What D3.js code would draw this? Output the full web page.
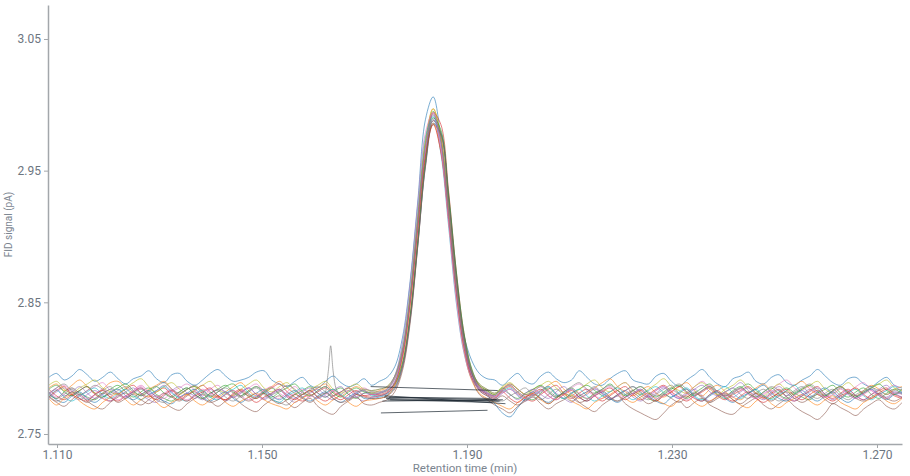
<!DOCTYPE html>
<html>
<head>
<meta charset="utf-8">
<script src="https://cdn.jsdelivr.net/npm/d3@7"></script>
<style>
  body { margin: 0; background: #fff; }
  #chart text { font-family: Roboto, "Noto Sans", sans-serif; }
</style>
</head>
<body>
<div id="chart"></div>
<script>
// retention times shared by every trace (min)
var times = [1.1084,1.1099,1.1114,1.1129,1.1144,1.1159,1.1174,1.1189,1.1204,1.1219,
  1.1234,1.1249,1.1264,1.1279,1.1294,1.1309,1.1324,1.1339,1.1354,1.1369,
  1.1384,1.1399,1.1414,1.1429,1.1444,1.1459,1.1474,1.1489,1.1504,1.1519,
  1.1534,1.1549,1.1564,1.1579,1.1594,1.1609,1.1624,1.1639,1.1654,1.1669,
  1.1684,1.1699,1.1714,1.1729,1.1744,1.1759,1.1774,1.1789,1.1804,1.1819,
  1.1834,1.1849,1.1864,1.1879,1.1894,1.1909,1.1924,1.1939,1.1954,1.1969,
  1.1984,1.1999,1.2014,1.2029,1.2044,1.2059,1.2074,1.2089,1.2104,1.2119,
  1.2134,1.2149,1.2164,1.2179,1.2194,1.2209,1.2224,1.2239,1.2254,1.2269,
  1.2284,1.2299,1.2314,1.2329,1.2344,1.2359,1.2374,1.2389,1.2404,1.2419,
  1.2434,1.2449,1.2464,1.2479,1.2494,1.2509,1.2524,1.2539,1.2554,1.2569,
  1.2584,1.2599,1.2614,1.2629,1.2644,1.2659,1.2674,1.2689,1.2704,1.2719,
  1.2734,1.2749];

// FID signal of each injection (pA)
var run01 = [2.793,2.796,2.791,2.794,2.799,2.795,2.790,2.793,2.797,2.792,
  2.788,2.792,2.794,2.798,2.792,2.789,2.795,2.796,2.790,2.787,
  2.791,2.796,2.799,2.794,2.790,2.791,2.793,2.797,2.798,2.791,
  2.788,2.786,2.790,2.793,2.787,2.785,2.790,2.794,2.789,2.786,
  2.788,2.792,2.787,
  2.790,2.793,2.801,2.823,2.866,2.927,2.989,3.006,2.975,2.920,2.862,2.825,2.806,2.796,2.792,
  2.791,2.787,2.792,2.796,2.790,2.788,2.794,2.797,2.792,2.789,
  2.791,2.798,2.793,2.788,2.787,2.792,2.796,2.798,2.791,2.789,
  2.788,2.794,2.796,2.790,2.786,2.791,2.795,2.799,2.793,2.788,
  2.786,2.792,2.794,2.797,2.790,2.788,2.793,2.795,2.789,2.787,
  2.791,2.794,2.799,2.794,2.789,2.787,2.792,2.793,2.788,2.786,
  2.790,2.793,2.787,2.785];
var run02 = [2.785,2.788,2.783,2.787,2.791,2.786,2.781,2.784,2.789,2.790,
  2.785,2.781,2.780,2.784,2.787,2.790,2.784,2.780,2.784,2.786,
  2.783,2.779,2.778,2.782,2.786,2.789,2.783,2.779,2.783,2.786,
  2.790,2.785,2.781,2.778,2.782,2.785,2.788,2.782,2.779,2.783,
  2.786,2.783,2.781,
  2.783,2.785,2.793,2.813,2.855,2.915,2.973,2.997,2.976,2.922,2.864,2.821,2.797,2.787,2.783,
  2.780,2.785,2.788,2.784,2.780,2.779,2.783,2.787,2.790,2.784,
  2.780,2.777,2.781,2.785,2.789,2.792,2.786,2.782,2.779,2.783,
  2.786,2.781,2.778,2.782,2.786,2.789,2.783,2.779,2.784,2.787,
  2.782,2.778,2.776,2.781,2.785,2.788,2.782,2.779,2.783,2.787,
  2.790,2.784,2.780,2.778,2.783,2.786,2.782,2.779,2.783,2.787,
  2.784,2.780,2.784,2.786];
var run03 = [2.780,2.777,2.782,2.785,2.781,2.778,2.776,2.781,2.784,2.787,
  2.782,2.778,2.782,2.785,2.780,2.777,2.775,2.780,2.784,2.786,
  2.781,2.778,2.782,2.786,2.788,2.782,2.779,2.777,2.782,2.785,
  2.780,2.776,2.780,2.783,2.786,2.781,2.778,2.782,2.785,2.780,
  2.777,2.781,2.782,
  2.782,2.784,2.792,2.812,2.854,2.913,2.971,2.995,2.974,2.920,2.862,2.820,2.796,2.786,2.782,
  2.779,2.784,2.787,2.782,2.778,2.776,2.781,2.785,2.780,2.777,
  2.781,2.784,2.787,2.783,2.779,2.776,2.780,2.783,2.786,2.781,
  2.777,2.775,2.780,2.784,2.787,2.782,2.779,2.783,2.786,2.780,
  2.777,2.781,2.785,2.788,2.783,2.779,2.777,2.782,2.785,2.781,
  2.778,2.776,2.781,2.784,2.787,2.781,2.778,2.782,2.785,2.780,
  2.777,2.781,2.784,2.780];
var run04 = [2.784,2.779,2.776,2.780,2.783,2.786,2.780,2.777,2.775,2.780,
  2.784,2.787,2.781,2.778,2.782,2.785,2.779,2.776,2.780,2.783,
  2.787,2.782,2.778,2.776,2.781,2.784,2.780,2.777,2.781,2.785,
  2.788,2.782,2.778,2.775,2.779,2.782,2.785,2.779,2.776,2.780,
  2.783,2.779,2.778,
  2.779,2.781,2.787,2.803,2.840,2.898,2.961,2.994,2.985,2.935,2.874,2.827,2.799,2.786,2.781,
  2.778,2.783,2.786,2.781,2.777,2.775,2.780,2.784,2.787,2.781,
  2.777,2.781,2.784,2.779,2.775,2.779,2.783,2.786,2.780,2.776,
  2.780,2.784,2.787,2.782,2.778,2.775,2.779,2.782,2.785,2.779,
  2.776,2.780,2.783,2.786,2.781,2.777,2.781,2.784,2.778,2.775,
  2.779,2.783,2.786,2.780,2.777,2.781,2.784,2.779,2.776,2.780,
  2.783,2.785,2.780,2.778];
var run05 = [2.777,2.782,2.785,2.779,2.776,2.780,2.783,2.779,2.775,2.779,
  2.782,2.785,2.780,2.776,2.774,2.779,2.783,2.786,2.781,2.777,
  2.781,2.784,2.779,2.775,2.779,2.782,2.785,2.780,2.776,2.780,
  2.783,2.778,2.774,2.778,2.781,2.784,2.779,2.776,2.780,2.783,
  2.778,2.775,2.778,
  2.779,2.781,2.789,2.809,2.851,2.910,2.968,2.992,2.971,2.917,2.859,2.817,2.793,2.783,2.779,
  2.776,2.781,2.784,2.779,2.775,2.779,2.782,2.786,2.781,2.777,
  2.774,2.779,2.782,2.785,2.780,2.776,2.780,2.783,2.778,2.775,
  2.779,2.783,2.786,2.780,2.777,2.781,2.784,2.779,2.775,2.779,
  2.782,2.785,2.789,2.783,2.779,2.776,2.780,2.783,2.778,2.775,
  2.779,2.782,2.785,2.780,2.776,2.780,2.783,2.779,2.776,2.780,
  2.784,2.787,2.781,2.778];
var run06 = [2.778,2.774,2.771,2.776,2.780,2.775,2.771,2.769,2.774,2.778,
  2.781,2.775,2.772,2.776,2.779,2.774,2.770,2.768,2.773,2.777,
  2.780,2.775,2.771,2.775,2.778,2.773,2.769,2.767,2.772,2.776,
  2.779,2.774,2.770,2.774,2.777,2.771,2.767,2.765,2.771,2.775,
  2.778,2.773,2.772,
  2.774,2.776,2.782,2.798,2.834,2.893,2.955,2.988,2.979,2.930,2.869,2.822,2.793,2.780,2.776,
  2.772,2.769,2.766,2.771,2.775,2.778,2.773,2.769,2.773,2.776,
  2.779,2.774,2.770,2.767,2.772,2.776,2.779,2.773,2.769,2.766,
  2.763,2.761,2.766,2.772,2.775,2.770,2.774,2.777,2.772,2.769,
  2.766,2.765,2.770,2.774,2.777,2.772,2.769,2.773,2.776,2.771,
  2.767,2.764,2.761,2.766,2.773,2.770,2.767,2.764,2.769,2.773,
  2.776,2.771,2.769,2.774];
var run07 = [2.780,2.785,2.787,2.782,2.779,2.783,2.786,2.789,2.783,2.780,
  2.778,2.783,2.787,2.782,2.779,2.777,2.782,2.785,2.788,2.783,
  2.779,2.784,2.787,2.781,2.778,2.782,2.785,2.788,2.782,2.779,
  2.777,2.782,2.786,2.781,2.778,2.783,2.786,2.782,2.779,2.777,
  2.782,2.785,2.782,
  2.782,2.784,2.792,2.812,2.853,2.913,2.970,2.994,2.973,2.919,2.862,2.819,2.796,2.786,2.782,
  2.779,2.784,2.787,2.782,2.779,2.783,2.786,2.781,2.778,2.782,
  2.785,2.788,2.783,2.779,2.777,2.782,2.786,2.789,2.783,2.780,
  2.778,2.783,2.786,2.781,2.778,2.782,2.786,2.790,2.785,2.781,
  2.778,2.782,2.785,2.780,2.777,2.781,2.784,2.788,2.791,2.785,
  2.781,2.778,2.782,2.785,2.781,2.778,2.782,2.786,2.789,2.783,
  2.780,2.784,2.787,2.782];
var run08 = [2.782,2.777,2.780,2.784,2.779,2.776,2.780,2.783,2.786,2.780,
  2.777,2.781,2.784,2.780,2.776,2.774,2.779,2.782,2.785,2.780,
  2.777,2.781,2.783,2.778,2.775,2.779,2.782,2.785,2.780,2.776,
  2.774,2.772,2.777,2.780,2.783,2.778,2.781,2.784,2.779,2.776,
  2.780,2.783,2.780,
  2.779,2.781,2.786,2.802,2.838,2.895,2.956,2.988,2.979,2.931,2.872,2.825,2.798,2.785,2.781,
  2.778,2.775,2.779,2.782,2.785,2.779,2.776,2.780,2.784,2.779,
  2.775,2.779,2.782,2.786,2.781,2.777,2.775,2.780,2.783,2.779,
  2.776,2.780,2.784,2.787,2.781,2.778,2.782,2.777,2.774,2.779,
  2.782,2.785,2.780,2.777,2.781,2.784,2.779,2.775,2.779,2.783,
  2.786,2.780,2.777,2.781,2.784,2.779,2.776,2.780,2.783,2.786,
  2.780,2.777,2.781,2.782];
var run09 = [2.787,2.790,2.784,2.781,2.785,2.788,2.791,2.785,2.782,2.780,
  2.785,2.789,2.792,2.786,2.782,2.786,2.789,2.784,2.780,2.784,
  2.787,2.790,2.784,2.781,2.779,2.784,2.788,2.791,2.785,2.782,
  2.786,2.789,2.783,2.780,2.784,2.787,2.790,2.784,2.781,2.785,
  2.788,2.784,2.783,
  2.784,2.786,2.794,2.814,2.856,2.915,2.973,2.997,2.976,2.922,2.864,2.822,2.798,2.788,2.784,
  2.781,2.786,2.789,2.784,2.780,2.784,2.787,2.790,2.785,2.781,
  2.779,2.784,2.788,2.791,2.785,2.782,2.786,2.789,2.783,2.780,
  2.784,2.788,2.792,2.786,2.783,2.781,2.786,2.789,2.784,2.780,
  2.784,2.787,2.791,2.785,2.781,2.779,2.784,2.788,2.783,2.780,
  2.784,2.787,2.790,2.784,2.781,2.785,2.789,2.784,2.781,2.785,
  2.788,2.791,2.785,2.783];
var run10 = [2.778,2.783,2.778,2.775,2.779,2.782,2.785,2.780,2.777,2.781,
  2.784,2.779,2.776,2.780,2.783,2.786,2.781,2.777,2.775,2.780,
  2.783,2.778,2.776,2.781,2.784,2.787,2.781,2.778,2.782,2.777,
  2.774,2.779,2.782,2.785,2.780,2.777,2.781,2.784,2.780,2.777,
  2.781,2.783,2.779,
  2.781,2.784,2.794,2.818,2.863,2.923,2.976,2.991,2.963,2.908,2.850,2.812,2.792,2.784,2.781,
  2.777,2.782,2.785,2.780,2.776,2.780,2.783,2.786,2.780,2.777,
  2.781,2.784,2.779,2.775,2.779,2.782,2.785,2.780,2.776,2.780,
  2.783,2.786,2.781,2.778,2.782,2.785,2.779,2.776,2.780,2.783,
  2.786,2.781,2.777,2.781,2.784,2.779,2.776,2.780,2.783,2.787,
  2.781,2.778,2.782,2.785,2.780,2.777,2.781,2.784,2.779,2.776,
  2.780,2.783,2.786,2.781];
var run11 = [2.781,2.776,2.774,2.779,2.782,2.777,2.774,2.778,2.781,2.784,
  2.779,2.776,2.780,2.783,2.778,2.775,2.773,2.778,2.781,2.784,
  2.778,2.775,2.779,2.782,2.777,2.774,2.778,2.781,2.784,2.779,
  2.776,2.780,2.783,2.778,2.775,2.779,2.782,2.777,2.774,2.778,
  2.781,2.777,2.777,
  2.778,2.780,2.785,2.801,2.837,2.894,2.954,2.986,2.978,2.929,2.870,2.824,2.797,2.784,2.780,
  2.773,2.766,2.763,2.770,2.777,2.782,2.777,2.774,2.778,2.781,
  2.784,2.778,2.775,2.779,2.782,2.777,2.774,2.778,2.781,2.784,
  2.779,2.775,2.773,2.778,2.781,2.784,2.778,2.775,2.779,2.782,
  2.777,2.774,2.778,2.781,2.784,2.787,2.781,2.777,2.775,2.780,
  2.783,2.778,2.775,2.779,2.782,2.777,2.774,2.778,2.781,2.784,
  2.779,2.776,2.780,2.781];
var run12 = [2.777,2.772,2.777,2.780,2.775,2.771,2.769,2.774,2.778,2.781,
  2.776,2.772,2.776,2.779,2.774,2.770,2.774,2.777,2.780,2.775,
  2.772,2.776,2.779,2.774,2.771,2.775,2.778,2.781,2.776,2.773,
  2.771,2.769,2.774,2.777,2.780,2.775,2.772,2.776,2.779,2.774,
  2.771,2.775,2.776,
  2.777,2.779,2.787,2.807,2.847,2.906,2.962,2.986,2.965,2.913,2.856,2.814,2.791,2.781,2.777,
  2.774,2.771,2.769,2.774,2.778,2.781,2.776,2.773,2.777,2.780,
  2.775,2.772,2.769,2.774,2.777,2.780,2.783,2.777,2.774,2.778,
  2.781,2.776,2.773,2.771,2.776,2.779,2.774,2.771,2.775,2.778,
  2.781,2.776,2.772,2.770,2.775,2.778,2.773,2.770,2.774,2.777,
  2.780,2.775,2.772,2.776,2.779,2.774,2.771,2.769,2.774,2.777,
  2.780,2.775,2.773,2.777];
var run13 = [2.784,2.787,2.782,2.779,2.783,2.786,2.781,2.778,2.782,2.785,
  2.788,2.783,2.779,2.783,2.786,2.781,2.778,2.782,2.785,2.780,
  2.777,2.781,2.784,2.787,2.782,2.779,2.783,2.786,2.781,2.778,
  2.782,2.785,2.788,2.782,2.779,2.783,2.786,2.781,2.778,2.782,
  2.785,2.782,2.781,
  2.781,2.783,2.788,2.804,2.840,2.897,2.958,2.990,2.981,2.933,2.874,2.827,2.800,2.787,2.783,
  2.780,2.785,2.780,2.777,2.781,2.784,2.787,2.782,2.778,2.782,
  2.785,2.780,2.777,2.781,2.784,2.788,2.783,2.779,2.783,2.786,
  2.781,2.778,2.782,2.785,2.780,2.777,2.781,2.785,2.788,2.782,
  2.779,2.783,2.786,2.781,2.778,2.782,2.785,2.780,2.777,2.781,
  2.784,2.787,2.782,2.779,2.783,2.786,2.781,2.778,2.782,2.785,
  2.788,2.783,2.780,2.784];
var run14 = [2.778,2.783,2.786,2.780,2.777,2.775,2.780,2.783,2.778,2.775,
  2.779,2.782,2.785,2.780,2.776,2.780,2.783,2.778,2.775,2.779,
  2.782,2.785,2.779,2.776,2.780,2.783,2.778,2.774,2.778,2.781,
  2.784,2.779,2.776,2.780,2.783,2.778,2.775,2.779,2.782,2.785,
  2.780,2.779,2.780,
  2.780,2.782,2.789,2.809,2.849,2.906,2.962,2.985,2.964,2.913,2.857,2.816,2.793,2.784,2.780,
  2.777,2.782,2.777,2.774,2.778,2.781,2.784,2.779,2.776,2.780,
  2.783,2.778,2.775,2.779,2.782,2.785,2.780,2.776,2.780,2.783,
  2.778,2.775,2.779,2.782,2.786,2.781,2.777,2.775,2.780,2.783,
  2.778,2.775,2.779,2.782,2.777,2.774,2.778,2.781,2.784,2.779,
  2.776,2.780,2.783,2.778,2.775,2.779,2.782,2.785,2.780,2.777,
  2.781,2.784,2.779,2.777];
var run15 = [2.780,2.784,2.779,2.782,2.786,2.781,2.777,2.780,2.784,2.781,
  2.778,2.782,2.785,2.780,2.783,2.787,2.782,2.778,2.781,2.779,
  2.776,2.780,2.784,2.782,2.778,2.781,2.785,2.780,2.777,2.781,
  2.784,2.780,2.777,2.782,2.785,2.781,2.778,2.783,2.786,2.780,
  2.778,2.781,2.780,
  2.781,2.783,2.790,2.811,2.851,2.909,2.965,2.989,2.968,2.916,2.859,2.818,2.795,2.785,2.781,
  2.779,2.783,2.780,2.776,2.781,2.784,2.780,2.777,2.782,2.786,
  2.781,2.778,2.780,2.784,2.781,2.777,2.779,2.783,2.786,2.782,
  2.778,2.781,2.785,2.780,2.777,2.780,2.784,2.787,2.782,2.779,
  2.781,2.778,2.782,2.785,2.780,2.778,2.782,2.786,2.781,2.777,
  2.780,2.784,2.781,2.778,2.782,2.785,2.780,2.777,2.781,2.784,
  2.780,2.778,2.782,2.781];
var run16 = [2.779,2.775,2.778,2.782,2.777,2.774,2.777,2.781,2.778,2.774,
  2.777,2.780,2.776,2.773,2.777,2.781,2.778,2.775,2.779,2.782,
  2.777,2.774,2.776,2.780,2.783,2.778,2.775,2.778,2.781,2.776,
  2.773,2.776,2.780,2.777,2.774,2.778,2.781,2.777,2.774,2.776,
  2.780,2.778,2.777,
  2.777,2.779,2.784,2.800,2.836,2.893,2.953,2.985,2.977,2.928,2.869,2.823,2.796,2.783,2.779,
  2.776,2.779,2.775,2.772,2.776,2.780,2.777,2.773,2.777,2.781,
  2.778,2.774,2.776,2.780,2.783,2.778,2.775,2.778,2.781,2.777,
  2.773,2.776,2.780,2.777,2.774,2.778,2.781,2.778,2.774,2.777,
  2.780,2.776,2.773,2.777,2.781,2.778,2.775,2.779,2.782,2.777,
  2.774,2.777,2.780,2.776,2.773,2.777,2.781,2.777,2.775,2.778,
  2.781,2.777,2.775,2.778];
var run17 = [2.782,2.778,2.781,2.785,2.780,2.777,2.780,2.784,2.780,2.776,
  2.779,2.783,2.786,2.781,2.778,2.781,2.784,2.779,2.776,2.780,
  2.784,2.781,2.777,2.780,2.783,2.779,2.776,2.779,2.783,2.786,
  2.781,2.778,2.781,2.784,2.780,2.777,2.780,2.783,2.779,2.777,
  2.781,2.783,2.780,
  2.781,2.784,2.794,2.819,2.864,2.925,2.979,2.994,2.966,2.910,2.851,2.812,2.792,2.784,2.781,
  2.778,2.781,2.784,2.780,2.777,2.780,2.783,2.779,2.776,2.780,
  2.784,2.781,2.777,2.779,2.783,2.786,2.781,2.778,2.781,2.784,
  2.780,2.777,2.779,2.783,2.780,2.776,2.779,2.783,2.787,2.782,
  2.779,2.781,2.784,2.780,2.777,2.780,2.783,2.779,2.776,2.779,
  2.783,2.786,2.781,2.778,2.780,2.784,2.780,2.777,2.780,2.783,
  2.779,2.777,2.781,2.780];
var run18 = [2.781,2.785,2.788,2.783,2.780,2.783,2.787,2.784,2.780,2.783,
  2.786,2.782,2.779,2.782,2.786,2.789,2.784,2.781,2.784,2.787,
  2.782,2.779,2.782,2.785,2.781,2.778,2.782,2.786,2.783,2.780,
  2.783,2.787,2.784,2.780,2.783,2.786,2.782,2.779,2.782,2.785,
  2.782,2.784,2.783,
  2.784,2.786,2.794,2.814,2.854,2.913,2.969,2.993,2.972,2.920,2.863,2.821,2.798,2.788,2.784,
  2.781,2.784,2.788,2.784,2.780,2.782,2.786,2.783,2.779,2.782,
  2.786,2.789,2.784,2.781,2.784,2.787,2.783,2.780,2.783,2.786,
  2.782,2.779,2.781,2.785,2.788,2.784,2.780,2.783,2.786,2.782,
  2.779,2.782,2.785,2.781,2.778,2.782,2.786,2.783,2.779,2.782,
  2.785,2.788,2.784,2.780,2.783,2.786,2.782,2.779,2.782,2.785,
  2.783,2.780,2.783,2.784];

// small spike on the grey run
var spikeTimes = [1.1624, 1.1630, 1.1634, 1.1639, 1.1645, 1.1654];
var spikeValues = [2.781, 2.800, 2.817, 2.797, 2.784, 2.779];

// integration baselines (drawn in black)
var baseStartT = [1.1712, 1.1738, 1.1742, 1.1745, 1.1735, 1.1748, 1.1732, 1.1740, 1.1750];
var baseStartV = [2.786, 2.778, 2.777, 2.776, 2.775, 2.778, 2.766, 2.779, 2.776];
var baseEndT   = [1.1960, 1.1958, 1.1965, 1.1950, 1.1970, 1.1945, 1.1940, 1.1975, 1.1962];
var baseEndV   = [2.783, 2.776, 2.775, 2.774, 2.776, 2.777, 2.768, 2.773, 2.775];

var xTicks = [1.110, 1.150, 1.190, 1.230, 1.270];
var yTicks = [2.75, 2.85, 2.95, 3.05];

var runs = [run01, run02, run03, run04, run05, run06, run07, run08, run09, run10,
            run11, run12, run13, run14, run15, run16, run17, run18];

function chromChart(){
  var W = 910, H = 476;
  var margin = {top: 5, right: 8, bottom: 32, left: 48};

  var svg = d3.select("#chart").append("svg")
      .attr("width", W)
      .attr("height", H);

  var x = d3.scaleLinear().domain([1.10824, 1.27488]).range([margin.left, W - margin.right]);
  var y = d3.scaleLinear().domain([2.7424, 3.0758]).range([H - margin.bottom, margin.top]);

  svg.append("clipPath").attr("id", "plotclip")
     .append("rect")
     .attr("x", margin.left).attr("y", margin.top)
     .attr("width", W - margin.left - margin.right)
     .attr("height", H - margin.top - margin.bottom);

  var plot = svg.append("g").attr("clip-path", "url(#plotclip)");

  var line = d3.line()
      .x(function(d) { return x(d[0]); })
      .y(function(d) { return y(d[1]); })
      .curve(d3.curveCatmullRom.alpha(0.5));

  var colors = d3.schemeCategory10;

  runs.forEach(function(vals, i) {
    var pts = vals.map(function(v, j) { return [times[j], v]; });
    plot.append("path")
        .datum(pts)
        .attr("d", line)
        .attr("fill", "none")
        .attr("stroke", colors[i % 10])
        .attr("stroke-width", 1)
        .attr("stroke-opacity", 0.6);
  });

  // spike on grey run
  plot.append("path")
      .datum(spikeTimes.map(function(t, j) { return [t, spikeValues[j]]; }))
      .attr("d", line)
      .attr("fill", "none")
      .attr("stroke", colors[7])
      .attr("stroke-width", 1)
      .attr("stroke-opacity", 0.65);

  // black baselines on top
  baseStartT.forEach(function(t, i) {
    plot.append("path")
        .datum([[t, baseStartV[i]], [baseEndT[i], baseEndV[i]]])
        .attr("d", d3.line().x(function(d) { return x(d[0]); }).y(function(d) { return y(d[1]); }))
        .attr("fill", "none")
        .attr("stroke", "#1b2631")
        .attr("stroke-width", 1)
        .attr("stroke-opacity", 0.7);
  });

  // axes
  var xAxis = svg.append("g")
      .attr("transform", "translate(0," + (H - margin.bottom) + ")")
      .call(d3.axisBottom(x).tickValues(xTicks).tickFormat(d3.format(".3f"))
            .tickSize(4).tickPadding(2).tickSizeOuter(0));

  var yAxis = svg.append("g")
      .attr("transform", "translate(" + margin.left + ",0)")
      .call(d3.axisLeft(y).tickValues(yTicks).tickFormat(d3.format(".2f")).tickSize(4).tickSizeOuter(0));

  [xAxis, yAxis].forEach(function(g) {
    g.select(".domain").attr("stroke", "#a3a7ab").attr("stroke-width", 1.5);
    g.selectAll(".tick line").attr("stroke", "#a3a7ab");
    g.selectAll(".tick text").attr("fill", "#6c757f").style("font-size", "12px");
  });

  svg.append("text")
     .attr("x", 465)
     .attr("y", 472)
     .attr("text-anchor", "middle")
     .attr("fill", "#7b8590")
     .style("font-size", "11.5px")
     .text("Retention time (min)");

  svg.append("text")
     .attr("transform", "translate(12," + ((margin.top + H - margin.bottom) / 2) + ") rotate(-90)")
     .attr("text-anchor", "middle")
     .attr("fill", "#7b8590")
     .style("font-size", "10px")
     .text("FID signal (pA)");
}

chromChart();
</script>
</body>
</html>
